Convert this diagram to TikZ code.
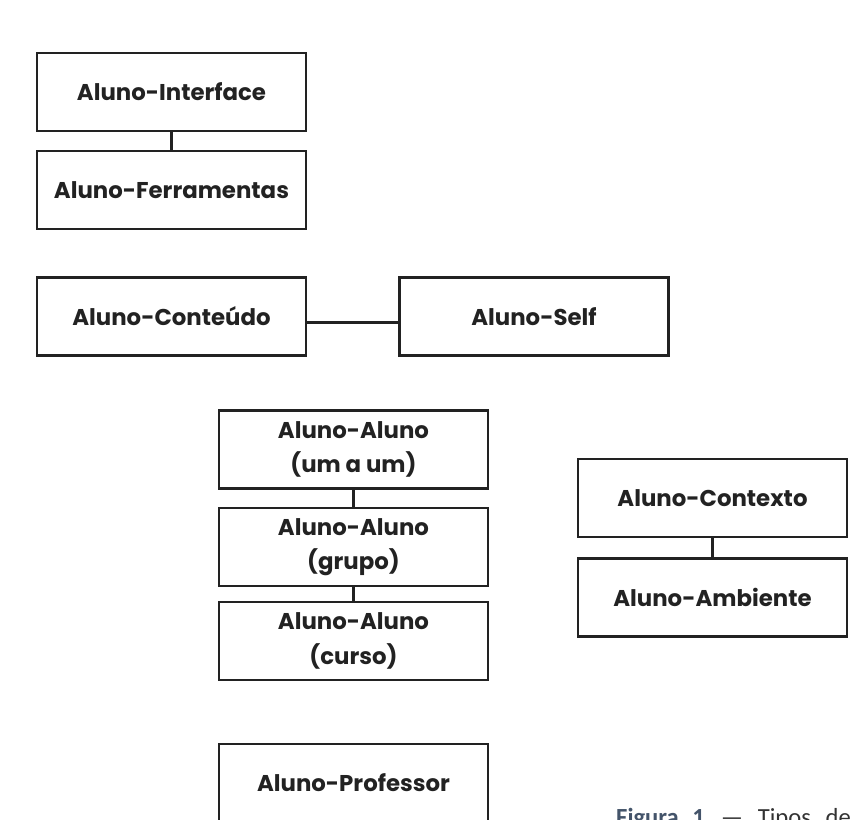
\documentclass[tikz,border=0pt]{standalone}
\usepackage{fontspec}
\setmainfont{Poppins}
\newfontfamily\legenda{Carlito}
\definecolor{linha}{HTML}{222222}
\definecolor{azulfig}{HTML}{44546A}
\definecolor{cinzafig}{HTML}{333333}

\begin{document}
\begin{tikzpicture}[x=0.03cm,y=-0.03cm,
  caixa/.style={draw=linha,line width=2.2pt,minimum width=8.07cm,minimum height=2.34cm,
    align=center,font=\fontsize{19.5}{29.5}\selectfont\bfseries,text=linha},
  liga/.style={draw=linha,line width=2pt}]
  \useasboundingbox (0,0) rectangle (857,820);
  \clip (0,0) rectangle (857,820);
  % coluna da esquerda
  \node[caixa] (interface) at (171.5,92) {Aluno-Interface};
  \node[caixa] (ferramentas) at (171.5,190) {Aluno-Ferramentas};
  \node[caixa] (conteudo) at (171.5,316.5) {Aluno-Conteúdo};
  \node[caixa] (self) at (534,316.5) {Aluno-Self};
  % aluno-aluno
  \node[caixa] (umaum) at (353.5,449.5) {Aluno-Aluno\\(um a um)};
  \node[caixa] (grupo) at (353.5,547) {Aluno-Aluno\\(grupo)};
  \node[caixa] (curso) at (353.5,641) {Aluno-Aluno\\(curso)};
  \node[caixa] (professor) at (353.5,783) {Aluno-Professor};
  % direita
  \node[caixa] (contexto) at (712.5,498) {Aluno-Contexto};
  \node[caixa] (ambiente) at (712.5,597.5) {Aluno-Ambiente};
  \draw[liga] (interface) -- (ferramentas);
  \draw[liga] ([yshift=-6*0.03cm]conteudo.east) -- ([yshift=-6*0.03cm]self.west);
  \draw[liga] (umaum) -- (grupo);
  \draw[liga] (grupo) -- (curso);
  \draw[liga] (contexto) -- (ambiente);
  % legenda
  \node[anchor=base west,inner sep=0pt,font=\legenda\fontsize{21}{24}\selectfont] (figura) at (616,825)
    {\textcolor{azulfig}{\bfseries Figura\hspace{0.55em}1}\hspace{0.65em}\textcolor{cinzafig}{—\hspace{0.6em}Tipos\hspace{0.6em}de}};
\end{tikzpicture}
\end{document}
